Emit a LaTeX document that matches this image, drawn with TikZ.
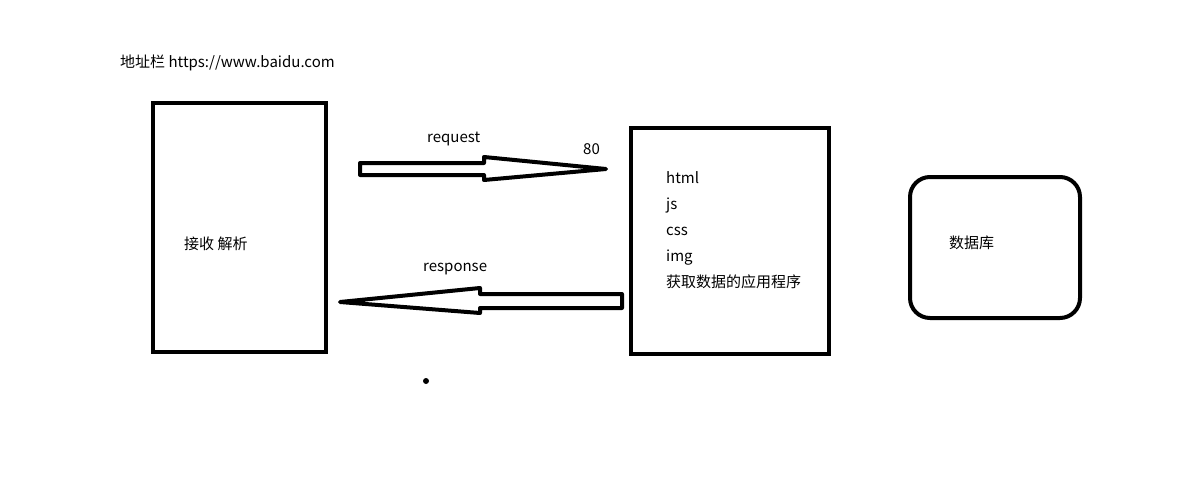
\documentclass[tikz,border=0pt]{standalone}
\usepackage{fontspec}
\setmainfont{Noto Sans CJK SC}
\usepackage{tikz}

\begin{document}
\begin{tikzpicture}[x=1pt,y=-1pt]
        \tikzstyle{every node}=[inner sep=0pt,font=\fontsize{15}{18}\selectfont]
        \tikzstyle{box}=[draw,line width=4pt]
        \tikzstyle{txt}=[anchor=base west]
        \tikzstyle{blockarrow}=[draw,line width=4pt,line join=round,fill=white]
            \useasboundingbox (0,0) rectangle (1202,479);

            % boxes
            \node[box,minimum width=173pt,minimum height=249pt] (browser) at (239.5,227.5) {};
            \node[box,minimum width=198pt,minimum height=226pt] (server) at (730,241) {};
            \node[box,rounded corners=20pt,minimum width=170pt,minimum height=141pt] (db) at (995,247.5) {};

            % texts
            \node[txt] (addr) at (120,67) {地址栏 https://www.baidu.com};
            \node[txt] (parse) at (184,249) {接收 解析};
            \node[txt] (req) at (427,142) {request};
            \node[txt] (port) at (583,154) {80};
            \node[txt] (resp) at (423,271) {response};
            \node[txt] (html) at (666,183) {html};
            \node[txt] (js) at (666,209) {js};
            \node[txt] (css) at (666,235) {css};
            \node[txt] (img) at (666,261) {img};
            \node[txt] (app) at (666,287) {获取数据的应用程序};
            \node[txt] (dbname) at (949,248) {数据库};

            % arrows
            \draw[blockarrow] (360,163) -- (484,163) -- (484,157) -- (606,169)
            -- (484,180) -- (484,175) -- (360,175) -- cycle;
            \draw[blockarrow] (622,294) -- (480,294) -- (480,288) -- (340,302)
            -- (480,313) -- (480,308) -- (622,308) -- cycle;

            \fill (426,381) circle (3pt);
        \end{tikzpicture}
\end{document}
